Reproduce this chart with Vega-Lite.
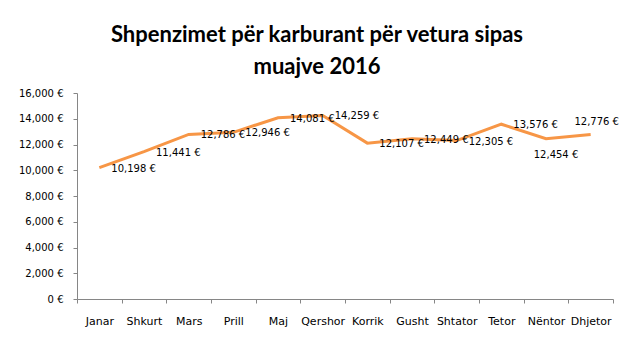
{
  "$schema": "https://vega.github.io/schema/vega-lite/v6.json",
  "autosize": "none",
  "width": 536,
  "height": 206,
  "padding": {"left": 77, "top": 93, "right": 26, "bottom": 56},
  "background": "white",
  "title": {
    "text": ["Shpenzimet për karburant për vetura sipas", "muajve 2016"],
    "font": "Lato",
    "fontSize": 22,
    "fontWeight": "bold",
    "color": "#000000",
    "lineHeight": 32,
    "anchor": "middle",
    "dx": -28,
    "offset": 9
  },
  "config": {
    "view": {"stroke": null},
    "axis": {"grid": false, "domainColor": "#868686", "tickColor": "#868686", "labelColor": "#000000", "labelFont": "DejaVu Sans"}
  },
  "data": {
    "values": [
      {"month": "Janar", "cost": 10198},
      {"month": "Shkurt", "cost": 11441},
      {"month": "Mars", "cost": 12786},
      {"month": "Prill", "cost": 12946},
      {"month": "Maj", "cost": 14081},
      {"month": "Qershor", "cost": 14259},
      {"month": "Korrik", "cost": 12107},
      {"month": "Gusht", "cost": 12449},
      {"month": "Shtator", "cost": 12305},
      {"month": "Tetor", "cost": 13576},
      {"month": "Nëntor", "cost": 12454},
      {"month": "Dhjetor", "cost": 12776}
    ]
  },
  "transform": [{"calculate": "format(datum.cost, ',') + ' €'", "as": "label"}],
  "encoding": {
    "x": {
      "field": "month",
      "type": "nominal",
      "sort": null,
      "scale": {"type": "band", "paddingInner": 0, "paddingOuter": 0},
      "axis": {"title": null, "labelAngle": 0, "labelFontSize": 11, "tickBand": "extent", "tickSize": 4, "labelPadding": 12}
    },
    "y": {
      "field": "cost",
      "type": "quantitative",
      "scale": {"domain": [0, 16000]},
      "axis": {"title": null, "values": [0, 2000, 4000, 6000, 8000, 10000, 12000, 14000, 16000], "labelExpr": "format(datum.value, ',') + ' €'", "labelFontSize": 10, "tickSize": 4, "labelPadding": 10}
    }
  },
  "layer": [
    {"mark": {"type": "line", "color": "#F79646", "strokeWidth": 3}},
    {
      "transform": [{"filter": "datum.month != 'Nëntor' && datum.month != 'Dhjetor'"}],
      "mark": {"type": "text", "align": "left", "baseline": "middle", "dx": 12, "dy": 1, "font": "DejaVu Sans", "fontSize": 10, "color": "#000000"},
      "encoding": {"text": {"field": "label"}}
    },
    {
      "transform": [{"filter": "datum.month == 'Nëntor'"}],
      "mark": {"type": "text", "align": "center", "baseline": "middle", "dx": 10, "dy": 16, "font": "DejaVu Sans", "fontSize": 10, "color": "#000000"},
      "encoding": {"text": {"field": "label"}}
    },
    {
      "transform": [{"filter": "datum.month == 'Dhjetor'"}],
      "mark": {"type": "text", "align": "center", "baseline": "middle", "dx": 6, "dy": -13, "font": "DejaVu Sans", "fontSize": 10, "color": "#000000"},
      "encoding": {"text": {"field": "label"}}
    }
  ]
}
